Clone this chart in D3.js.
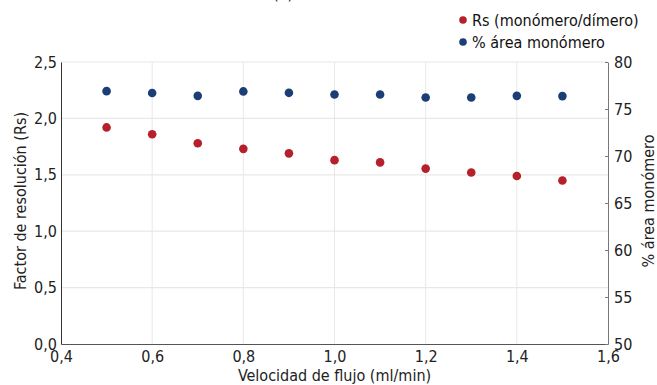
<!DOCTYPE html>
<html>
<head>
<meta charset="utf-8">
<script src="https://cdn.jsdelivr.net/npm/d3@7"></script>
<style>
  body { margin: 0; background: #fff; }
  svg text { font-family: "Liberation Sans Narrow", "DejaVu Sans Condensed", "Roboto", sans-serif; fill: #222; }
</style>
</head>
<body>
<figure id="chart" style="margin:0"></figure>
<script>
// flow rate (ml/min)
const flow = [0.5, 0.6, 0.7, 0.8, 0.9, 1.0, 1.1, 1.2, 1.3, 1.4, 1.5];
// resolution factor Rs (monomer/dimer), left axis
const rs = [1.92, 1.86, 1.78, 1.73, 1.69, 1.63, 1.61, 1.555, 1.52, 1.49, 1.45];
// % monomer area, right axis
const areaMono = [76.9, 76.7, 76.4, 76.87, 76.72, 76.55, 76.55, 76.23, 76.23, 76.4, 76.37];

const xTicks = [0.4, 0.6, 0.8, 1.0, 1.2, 1.4, 1.6];
const yTicks = [0, 0.5, 1.0, 1.5, 2.0, 2.5];
const y2Ticks = [50, 55, 60, 65, 70, 75, 80];

const seriesNames = ["Rs (monómero/dímero)", "% área monómero"];
const colors = ["#b5202a", "#1b3f75"];

const W = 657, H = 385;
const m = { left: 61, right: 49, top: 62, bottom: 41 };
const width = W - m.left - m.right;
const height = H - m.top - m.bottom;

const svg = d3.select("#chart").append("svg")
  .attr("width", W).attr("height", H);

const comma = d => d3.format(".1f")(d).replace(".", ",");

const x = d3.scaleLinear().domain([0.4, 1.6]).range([0, width]);
const y = d3.scaleLinear().domain([0, 2.5]).range([height, 0]);
const y2 = d3.scaleLinear().domain([50, 80]).range([height, 0]);

const g = svg.append("g").attr("transform", `translate(${m.left},${m.top})`);

// grid
g.append("g").selectAll("line").data(xTicks.slice(1, -1)).enter().append("line")
  .attr("x1", d => x(d)).attr("x2", d => x(d))
  .attr("y1", 0).attr("y2", height)
  .attr("stroke", "#e8e8e8").attr("stroke-width", 1);
g.append("g").selectAll("line").data(yTicks.slice(1)).enter().append("line")
  .attr("x1", 0).attr("x2", width)
  .attr("y1", d => y(d)).attr("y2", d => y(d))
  .attr("stroke", "#e8e8e8").attr("stroke-width", 1.2);

// x axis
const xAxis = g.append("g").attr("transform", `translate(0,${height})`)
  .call(d3.axisBottom(x).tickValues(xTicks).tickFormat(comma).tickSize(0).tickPadding(6));
xAxis.select(".domain").attr("stroke", "#555");
xAxis.selectAll("text").attr("font-size", 16).attr("dy", "0.75em");

// left y axis
const yAxis = g.append("g")
  .call(d3.axisLeft(y).tickValues(yTicks).tickFormat(comma).tickSize(0).tickPadding(4));
yAxis.select(".domain").attr("stroke", "#333");
yAxis.selectAll("text").attr("font-size", 16);

// right y axis
const y2Axis = g.append("g").attr("transform", `translate(${width},0)`)
  .call(d3.axisRight(y2).tickValues(y2Ticks).tickSizeInner(-3).tickSizeOuter(0).tickPadding(6));
y2Axis.select(".domain").attr("stroke", "#777");
y2Axis.selectAll(".tick line").attr("stroke", "#777");
y2Axis.selectAll("text").attr("font-size", 16);

// points
g.append("g").selectAll("circle").data(flow).enter().append("circle")
  .attr("cx", d => x(d)).attr("cy", (d, i) => y2(areaMono[i]))
  .attr("r", 4.3).attr("fill", colors[1]);
g.append("g").selectAll("circle").data(flow).enter().append("circle")
  .attr("cx", d => x(d)).attr("cy", (d, i) => y(rs[i]))
  .attr("r", 4.3).attr("fill", colors[0]);

// axis titles
svg.append("text")
  .attr("x", m.left + width / 2).attr("y", 381)
  .attr("text-anchor", "middle").attr("font-size", 16)
  .text("Velocidad de flujo (ml/min)");
svg.append("text")
  .attr("transform", `translate(26,${m.top + height / 2 - 2}) rotate(-90)`)
  .attr("text-anchor", "middle").attr("font-size", 16)
  .text("Factor de resolución (Rs)");
svg.append("text")
  .attr("transform", `translate(654,${m.top + height / 2 - 2}) rotate(-90)`)
  .attr("text-anchor", "middle").attr("font-size", 16)
  .text("% área monómero");

// title, cut off at the very top in the original
svg.append("text")
  .attr("x", 283).attr("y", -1).attr("text-anchor", "middle").attr("font-size", 16)
  .text("(a)");

// legend
const leg = svg.append("g").attr("transform", "translate(463,20)");
seriesNames.forEach((name, i) => {
  leg.append("circle").attr("cx", 0).attr("cy", i * 22).attr("r", 3.8).attr("fill", colors[i]);
  leg.append("text").attr("x", 9).attr("y", i * 22).attr("dy", "0.35em")
    .attr("font-size", 16).style("fill", "#111").text(name);
});
</script>
</body>
</html>
